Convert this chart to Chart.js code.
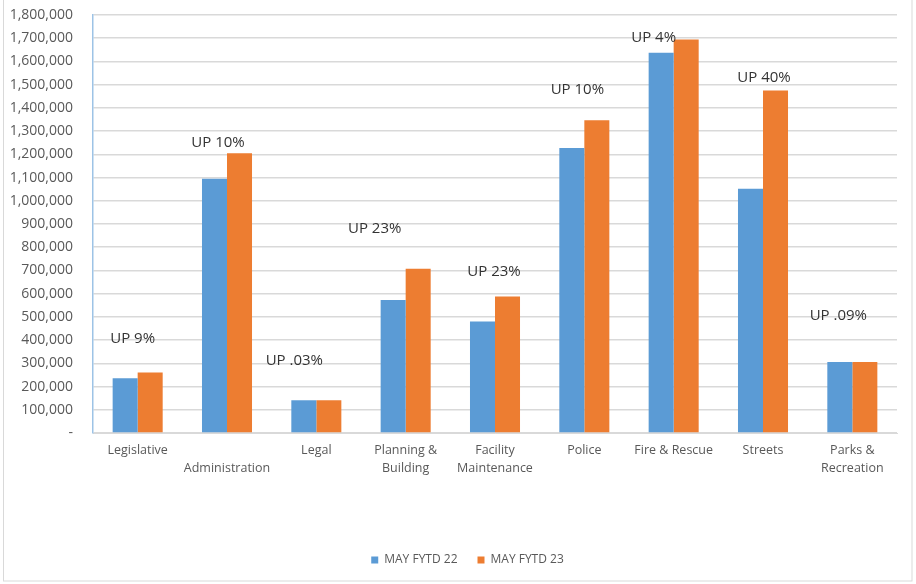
<!DOCTYPE html>
<html>
<head>
<meta charset="utf-8">
<script src="https://cdn.jsdelivr.net/npm/chart.js@4/dist/chart.umd.min.js"></script>
<style>
  html, body { margin: 0; padding: 0; background: #fff; }
  #wrap { width: 916px; height: 584px; position: relative; }
</style>
</head>
<body>
<div id="wrap"><canvas id="barChart" width="916" height="584"></canvas></div>
<script>
// categories (an empty first line pushes "Administration" down like the staggered axis)
const categories = [
  "Legislative", ["", "Administration"], "Legal", ["Planning &", "Building"],
  ["Facility", "Maintenance"], "Police", "Fire & Rescue", "Streets", ["Parks &", "Recreation"]
];
const fytd22 = [236000, 1095000, 141000, 573000, 480000, 1227000, 1637000, 1052000, 306000];
const fytd23 = [260000, 1205000, 141000, 707000, 588000, 1347000, 1695000, 1475000, 306000];
const changeText = ["UP 9%", "UP 10%", "UP .03%", "UP 23%", "UP 23%", "UP 10%", "UP 4%", "UP 40%", "UP .09%"];
const changeAt = [406000, 1252000, 311000, 880000, 695000, 1480000, 1700000, 1532000, 505000];
const yMin = 0, yMax = 1800000, yStep = 100000;

const font = "'Open Sans', 'Liberation Sans', sans-serif";
const grey = "#595959";

// text labels above each group
const changeLabels = {
  id: "changeLabels",
  afterDatasetsDraw(chart, args, opts) {
    const { ctx, scales } = chart;
    ctx.save();
    ctx.font = "15px " + font;
    ctx.fillStyle = "#333";
    ctx.textAlign = "center";
    ctx.textBaseline = "middle";
    changeText.forEach((t, i) => {
      const x = scales.x.getPixelForValue(i) + opts.dx[i];
      const y = scales.y.getPixelForValue(changeAt[i]);
      ctx.fillText(t, x, y);
    });
    ctx.restore();
  }
};

// thin frame round the chart, legend nudged right like the original
const frame = {
  id: "frame",
  afterLayout(chart) {
    chart.legend.left += 19;
    chart.legend.right += 19;
  },
  beforeDraw(chart) {
    const ctx = chart.ctx;
    ctx.save();
    ctx.strokeStyle = "#d9d9d9";
    ctx.lineWidth = 1;
    ctx.strokeRect(3.5, -2, 908.5, 583);
    ctx.restore();
  }
};

new Chart(document.getElementById("barChart"), {
  type: "bar",
  data: {
    labels: categories,
    datasets: [
      { label: "MAY FYTD 22", data: fytd22, backgroundColor: "#5B9BD5" },
      { label: "MAY FYTD 23", data: fytd23, backgroundColor: "#ED7D31" }
    ]
  },
  options: {
    responsive: false,
    animation: false,
    layout: { padding: { top: 15, right: 19, bottom: 8, left: 0 } },
    datasets: { bar: { barPercentage: 1, categoryPercentage: 0.56 } },
    scales: {
      x: {
        grid: { display: false, drawTicks: false },
        border: { color: "#d9d9d9", width: 1 },
        ticks: {
          color: grey, padding: 8, maxRotation: 0, autoSkip: false,
          font: { family: font, size: 12.5, lineHeight: 1.45 }
        },
        afterFit(scale) { scale.height = 101; }
      },
      y: {
        min: yMin, max: yMax,
        grid: { color: "#d9d9d9", lineWidth: 1.5, drawTicks: true, tickLength: 17, tickColor: "rgba(0,0,0,0)" },
        border: { color: "#9DC3E6", width: 1.5 },
        ticks: {
          stepSize: yStep, color: grey, padding: 3,
          font: { family: font, size: 14 },
          callback: v => v === 0 ? "-" : v.toLocaleString("en-US")
        },
        afterFit(scale) { scale.width = 93; }
      }
    },
    plugins: {
      legend: {
        position: "bottom",
        labels: {
          color: grey, boxWidth: 7, boxHeight: 7, padding: 20,
          font: { family: font, size: 12 }
        }
      },
      tooltip: { enabled: false },
      changeLabels: { dx: [-5, -9, -22, -31, -1, -7, -20, 1, -14] }
    }
  },
  plugins: [changeLabels, frame]
});
</script>
</body>
</html>
